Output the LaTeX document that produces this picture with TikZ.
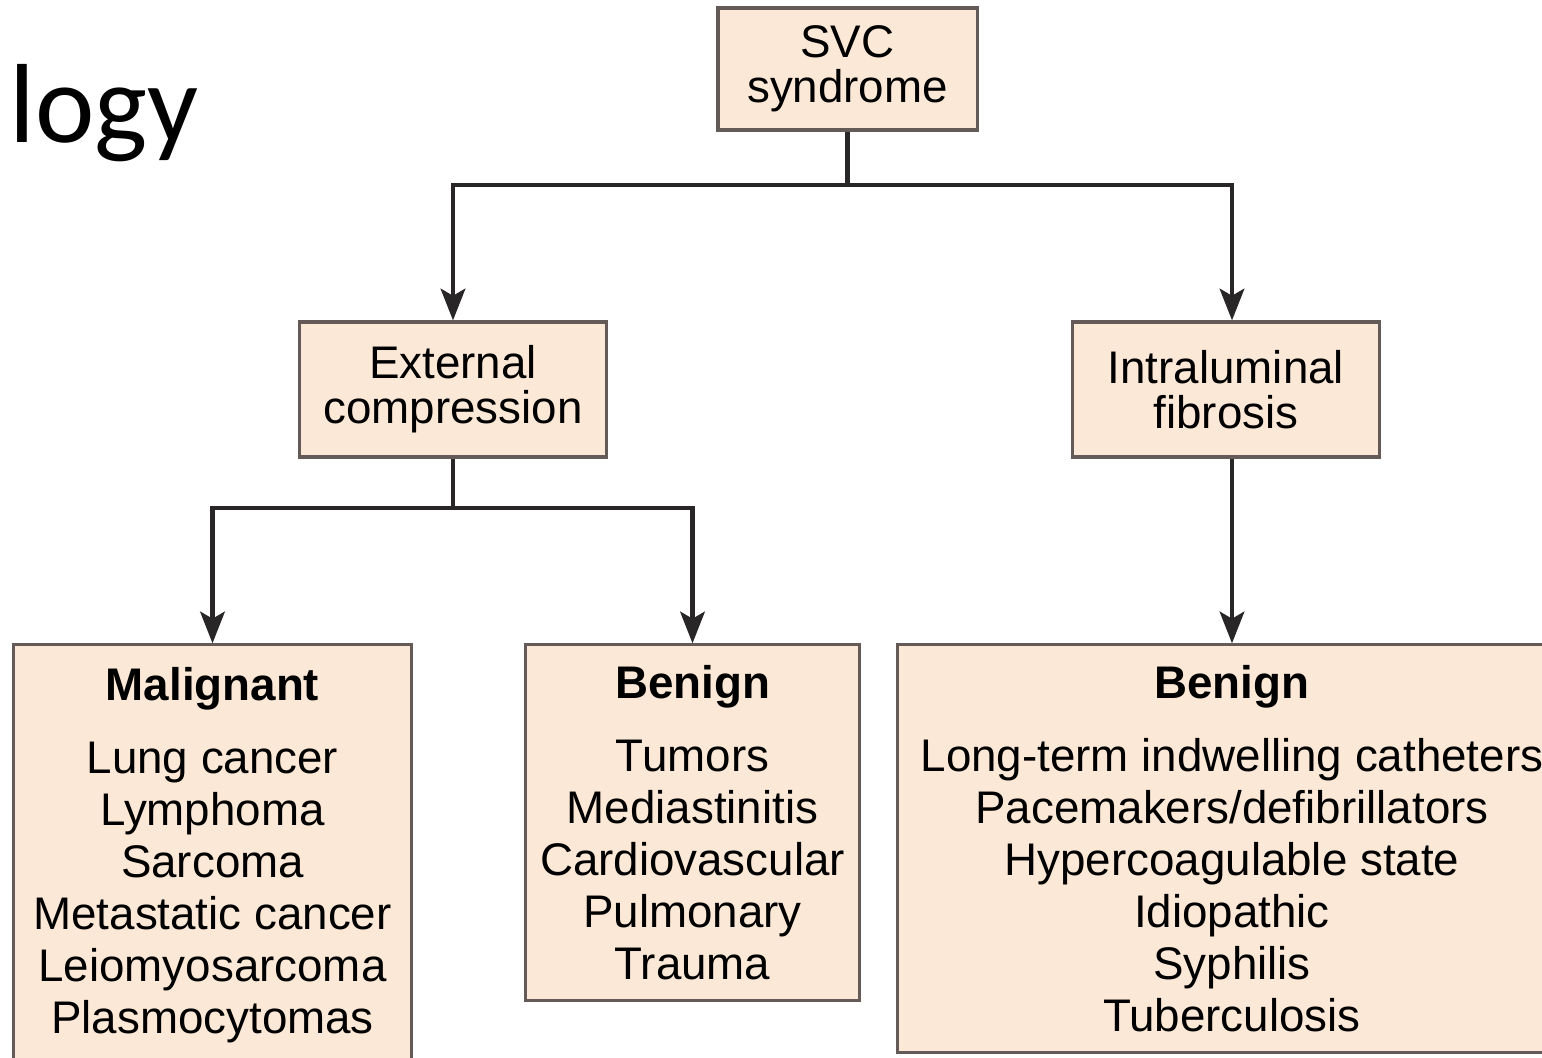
\documentclass[tikz,border=0pt]{standalone}
\usepackage{fontspec}
\setmainfont{Liberation Sans}
\newfontfamily\slidefont{Carlito}
\usepackage{xcolor}
\usetikzlibrary{arrows.meta}
\usetikzlibrary{positioning}

\definecolor{boxfill}{RGB}{252,232,214}
\definecolor{boxline}{RGB}{100,90,88}
\definecolor{arrline}{RGB}{40,38,38}

\tikzset{
  box/.style={draw=boxline, fill=boxfill, line width=0.9pt, align=center, inner sep=0pt,
    font=\fontsize{13}{12.8}\selectfont},
  listbox/.style={box, font=\fontsize{13}{14.8}\selectfont},
  conn/.style={draw=arrline, line width=1.2pt, -{Stealth[length=9pt,width=7pt,inset=2pt]}},
  wire/.style={draw=arrline, line width=1.2pt}
}

\begin{document}
\begin{tikzpicture}[x=0.01cm,y=-0.01cm]
		\useasboundingbox (0,0) rectangle (1542,1058);
		% slide title, cut off at the left
		\node[anchor=base west, inner sep=0pt, font=\slidefont\fontsize{32}{36}\selectfont] (title) at (9,143) {logy};
		% boxes
		\node[box, minimum width=2.59cm, minimum height=1.22cm] (svc) at (847.5,69) {SVC\\syndrome};
		\node[box, minimum width=3.06cm, minimum height=1.35cm] (ext) at (453,389.5) {External\\compression};
		\node[box, minimum width=3.07cm, minimum height=1.35cm] (intra) at (1226,389.5) {Intraluminal\\fibrosis};
		\node[listbox, minimum width=3.97cm, minimum height=4.20cm] (malig) at (212.5,855) {\textbf{Malignant}\\[6pt]
			Lung cancer\\Lymphoma\\Sarcoma\\Metastatic cancer\\Leiomyosarcoma\\Plasmocytomas};
		\node[listbox, minimum width=3.33cm, minimum height=3.55cm] (benext) at (692.5,822.5) {\textbf{Benign}\\[6pt]
			Tumors\\Mediastinitis\\Cardiovascular\\Pulmonary\\Trauma};
		\node[listbox, minimum width=6.68cm, minimum height=4.07cm] (benintra) at (1232,848.5) {\textbf{Benign}\\[6pt]
			Long-term indwelling catheters\\Pacemakers/defibrillators\\Hypercoagulable state\\Idiopathic\\Syphilis\\Tuberculosis};
		% connectors
		\coordinate (split1) at (847.5,185);
		\coordinate (split2) at (453,508);
		\draw[wire] (svc.south) -- (split1);
		\draw[conn] (split1) -| (ext.north);
		\draw[conn] (split1) -| (benintra.north |- intra.north);
		\draw[wire] (ext.south) -- (split2);
		\draw[conn] (split2) -| (malig.north);
		\draw[conn] (split2) -| (benext.north);
		\draw[conn] (benintra.north |- intra.south) -- (benintra.north);
\end{tikzpicture}
\end{document}
